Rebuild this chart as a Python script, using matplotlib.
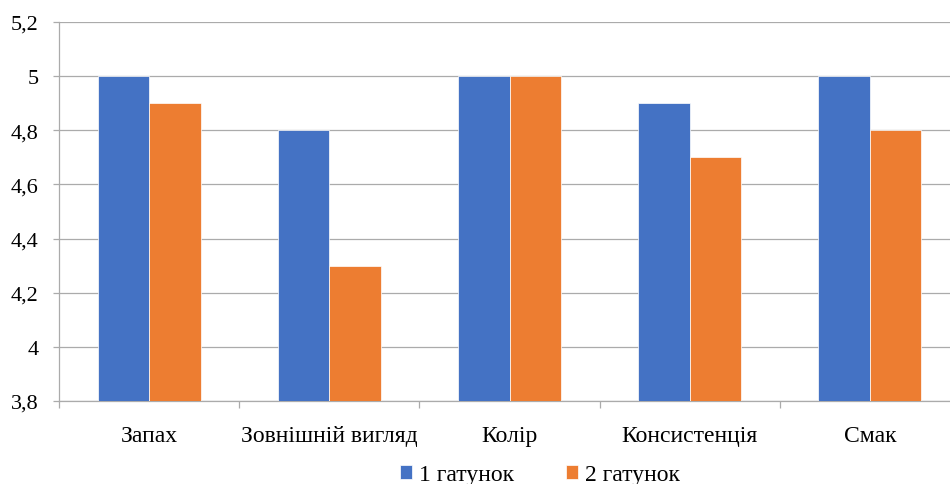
"""Grouped bar chart: organoleptic scores, 1 vs 2 гатунок."""
import matplotlib

matplotlib.use("Agg")
import matplotlib.pyplot as plt  # noqa: E402
import numpy as np  # noqa: E402
from matplotlib.ticker import FixedLocator, FuncFormatter  # noqa: E402

categories = ["Запах", "Зовнішній вигляд", "Колір", "Консистенція", "Смак"]
grade1 = [5.0, 4.8, 5.0, 4.9, 5.0]
grade2 = [4.9, 4.3, 5.0, 4.7, 4.8]
series_names = ["1 гатунок", "2 гатунок"]
yticks = [3.8, 4.0, 4.2, 4.4, 4.6, 4.8, 5.0, 5.2]

BLUE = "#4472C4"
ORANGE = "#ED7D31"
GRID = "#ABABAB"

plt.rcParams["font.family"] = ["Liberation Serif", "DejaVu Serif"]

fig = plt.figure(figsize=(9.5, 4.85), dpi=100)
ax = fig.add_axes([59 / 950, 83 / 485, 901 / 950, 379 / 485])

x = np.arange(len(categories))
w = 0.286
b1 = ax.bar(x - w / 2, np.array(grade1) - 3.8, w, bottom=3.8, color=BLUE,
            edgecolor="white", linewidth=0.5, label=series_names[0], zorder=3)
b2 = ax.bar(x + w / 2, np.array(grade2) - 3.8, w, bottom=3.8, color=ORANGE,
            edgecolor="white", linewidth=0.5, label=series_names[1], zorder=3)

ax.set_xlim(-0.5, len(categories) - 0.5)
ax.set_ylim(3.8, 5.2)
ax.set_yticks(yticks)
ax.yaxis.set_major_formatter(FuncFormatter(
    lambda v, _: f"{v:.1f}".rstrip("0").rstrip(".").replace(".", ",")))
ax.grid(axis="y", color=GRID, lw=0.9, zorder=0)

ax.set_xticks(x)
ax.set_xticklabels(categories)
ax.xaxis.set_minor_locator(FixedLocator(np.arange(len(categories) + 1) - 0.5))
ax.tick_params(axis="x", which="major", length=0, pad=17, labelsize=17)
ax.tick_params(axis="x", which="minor", length=5, color=GRID, width=0.9)
ax.tick_params(axis="y", length=4.5, color=GRID, width=0.9, pad=10, labelsize=16)

for s in ("top", "right"):
    ax.spines[s].set_visible(False)
for s in ("left", "bottom"):
    ax.spines[s].set_color(GRID)
    ax.spines[s].set_linewidth(0.9)

fig.legend(handles=[b1, b2], loc="center", bbox_to_anchor=(540 / 950, 1 - 476 / 485),
           ncol=2, frameon=False, fontsize=17, handlelength=0.5, handleheight=0.5,
           handletextpad=0.3, columnspacing=2.2)

fig.savefig("out.png", dpi=100)
